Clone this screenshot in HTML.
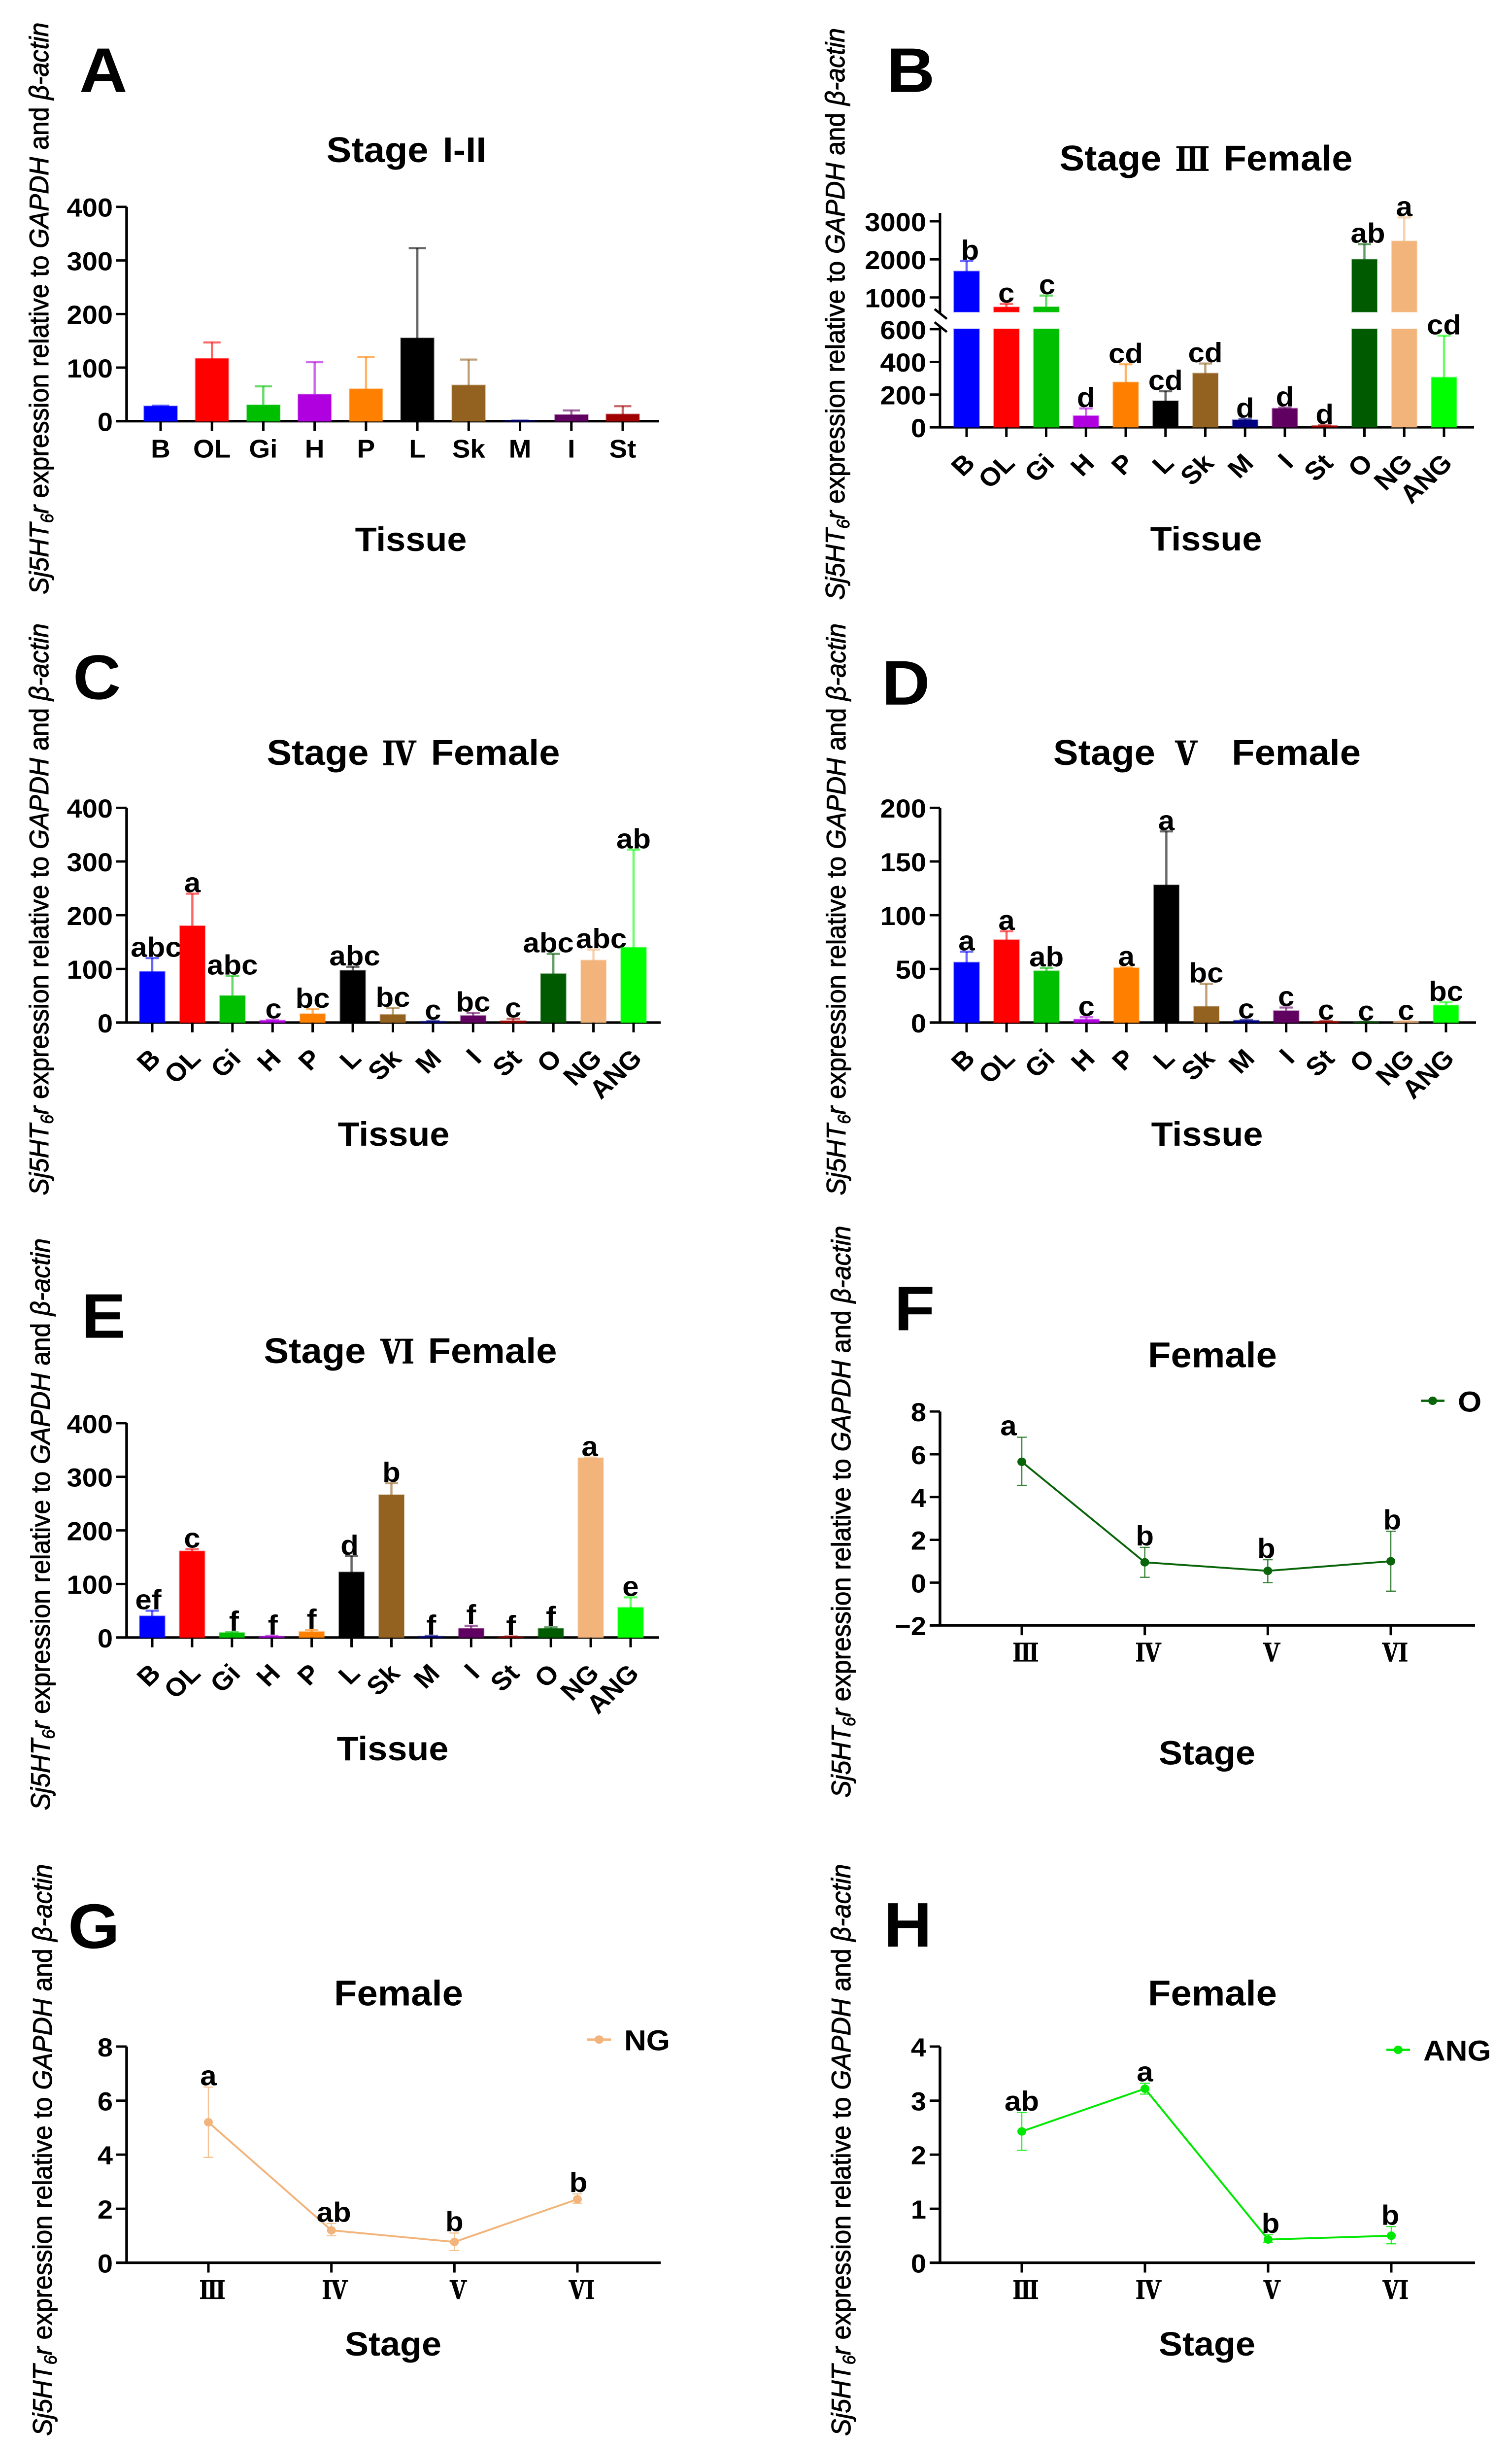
<!DOCTYPE html>
<html lang="en">
<head>
<meta charset="utf-8">
<title>Sj5HT6r expression by tissue and stage</title>
<style>
html,body{margin:0;padding:0;background:#fff;width:100%;height:100%;overflow:hidden;}
svg{display:block;width:100vw;height:100vh;}
text{font-family:"Liberation Sans","Noto Sans CJK SC",sans-serif;white-space:pre;}
</style>
</head>
<body>
<svg id="chart" xmlns="http://www.w3.org/2000/svg" viewBox="0 0 3067 5277" preserveAspectRatio="none"></svg>
<script>
const tissues10 = ['B','OL','Gi','H','P','L','Sk','M','I','St'];
const tissues13 = ['B','OL','Gi','H','P','L','Sk','M','I','St','O','NG','ANG'];
const tissueColors = ['#0000ff','#ff0000','#00bf00','#b000e0','#ff8000','#000000','#936220','#000080','#600060','#a00000','#005a00','#f2b47a','#00ff00'];
const stages = ['Ⅲ','Ⅳ','Ⅴ','Ⅵ'];

const ticksA = [0,100,200,300,400];
const valuesA = [28,117,30,50,60,155,67,1,12,13];
const errTopA = [29,147,65,110,120,323,115,1,20,28];

const ticksB = [0,200,400,600,1000,2000,3000];
const valuesB = [1687,745,750,70,275,160,330,45,115,10,2000,2480,305];
const errTopB = [1957,830,1050,115,385,220,390,50,120,12,2400,3100,560];
const lettersB = ['b','c','c','d','cd','cd','cd','d','d','d','ab','a','cd'];

const ticksC = [0,100,200,300,400];
const valuesC = [95,180,50,4,16,97,15,2,13,3,91,116,140];
const errTopC = [120,240,87,5,25,104,27,3,18,7,128,136,322];
const lettersC = ['abc','a','abc','c','bc','abc','bc','c','bc','c','abc','abc','ab'];

const ticksD = [0,50,100,150,200];
const valuesD = [56,77,48,3,51,128,15,2,11,1,0.5,1,16];
const errTopD = [66,85,51,5,51.5,178,36,2.5,14,1.5,0.6,1.2,19];
const lettersD = ['a','a','ab','c','a','a','bc','c','c','c','c','c','bc'];

const ticksE = [0,100,200,300,400];
const valuesE = [40,161,9,2,11,122,266,2,17,1,17,335,56];
const errTopE = [50,165,10,3,14,152,288,3,22,2,19,336,75];
const lettersE = ['ef','c','f','f','f','d','b','f','f','f','f','a','e'];

const ticksF = [-2,0,2,4,6,8];
const meansF = [5.65,0.95,0.55,1.0];
const upperF = [6.8,1.65,1.07,2.4];
const lowerF = [4.55,0.25,0,-0.4];
const lettersF = ['a','b','b','b'];

const ticksG = [0,2,4,6,8];
const meansG = [5.2,1.2,0.77,2.35];
const upperG = [6.5,1.45,1.1,2.55];
const lowerG = [3.9,1.0,0.45,2.2];
const lettersG = ['a','ab','b','b'];

const ticksH = [0,1,2,3,4];
const meansH = [2.43,3.22,0.43,0.5];
const upperH = [2.78,3.32,0.52,0.67];
const lowerH = [2.08,3.12,0.38,0.35];
const lettersH = ['ab','a','b','b'];

const NS = 'http://www.w3.org/2000/svg';
const root = document.getElementById('chart');

function add(parent, tag, name, attrs, text) {
  const el = document.createElementNS(NS, tag);
  
  
  for (const k in attrs) el.setAttribute(k, attrs[k]);
  if (text !== undefined) el.textContent = text;
  parent.appendChild(el);
  return el;
}
function line(p, name, x1, y1, x2, y2, color, w, op) {
  return add(p, 'line', name, {x1:x1, y1:y1, x2:x2, y2:y2, stroke:color, 'stroke-width':w, 'stroke-opacity':op === undefined ? 1 : op});
}
function boldText(p, name, x, y, str, size, anchor) {
  return add(p, 'text', name, {x:x, y:y, 'font-size':size, 'font-weight':'bold', 'text-anchor':anchor || 'middle', fill:'#000'}, str);
}

function yTitle(p, id, x, bottom) {
  const t = add(p, 'text', id + '-y-axis-title', {x:x, y:bottom, 'font-size':55, fill:'#000', stroke:'#000', 'stroke-width':1, transform:'rotate(-90 ' + x + ' ' + bottom + ')'});
  const parts = [['Sj5HT','italic',55,0],['6','italic',36,10],['r','italic',55,-10],[' expression relative to ','normal',55,0],['GAPDH','italic',55,0],[' and ','normal',55,0],['β-actin','italic',55,0]];
  parts.forEach(function (q) {
    add(t, 'tspan', id + '-y-title-part', {'font-style':q[1], 'font-size':q[2], dy:q[3]}, q[0]);
  });
}

function title(p, id, cx, base, before, roman, after) {
  const t = add(p, 'text', id + '-title', {x:cx, y:base, 'font-size':76, 'font-weight':'bold', 'text-anchor':'middle', fill:'#000', 'word-spacing':8});
  add(t, 'tspan', id + '-title-text', {}, before);
  if (roman) {
    add(t, 'tspan', id + '-title-numeral', {style:'font-family:"Noto Serif CJK SC",serif', 'font-weight':'bold', 'font-size':68, stroke:'#000', 'stroke-width':1.8}, roman);
    add(t, 'tspan', id + '-title-text-end', {}, after);
  }
}

function yAxis(g, c, y) {
  if (c.brk) {
    const lowTop = y(c.brk.low) - 5;
    const highBottom = y(c.brk.high) + 4;
    line(g, 'y-axis-lower', c.axisX, y(0) + 2, c.axisX, lowTop, '#000', 5);
    line(g, 'y-axis-upper', c.axisX, highBottom, c.axisX, c.axisTop, '#000', 5);
    line(g, 'y-axis-break-upper', c.axisX - 11, highBottom - 10, c.axisX + 14, highBottom + 11, '#000', 5);
    line(g, 'y-axis-break-lower', c.axisX - 11, lowTop - 10, c.axisX + 14, lowTop + 11, '#000', 5);
  } else {
    line(g, 'y-axis', c.axisX, c.y0 + 2, c.axisX, c.axisTop, '#000', 5.5);
  }
  c.ticks.forEach(function (v) {
    line(g, 'y-tick-' + v, c.axisX - 21, y(v), c.axisX, y(v), '#000', 5);
    boldText(g, 'y-tick-label-' + v, c.axisX - 28, y(v) + 21, v < 0 ? '−' + Math.abs(v) : String(v), 56, 'end');
  });
  line(g, 'x-axis', c.axisX - 21, c.y0, c.axisRight, c.y0, '#000', 5.5);
}

function frame(c) {
  const g = add(root, 'g', 'panel-' + c.id, {});
  boldText(g, 'panel-letter-' + c.id, c.letterX, c.letterBase, c.letter, 135, 'start');
  yTitle(g, c.id, c.yTitleX, c.yTitleBottom);
  title(g, c.id, c.titleCx, c.titleBase, c.title[0], c.title[1], c.title[2]);
  boldText(g, 'x-axis-title-' + c.id, c.xTitleCx, c.xTitleBase, c.xTitle, 72);
  return g;
}

function barPanel(c) {
  const g = frame(c);
  const y = c.scale;
  yAxis(g, c, y);
  const n = c.cats.length;
  const x = function (i) { return c.firstX + i * (c.lastX - c.firstX) / (n - 1); };
  c.cats.forEach(function (cat, i) {
    const col = tissueColors[i];
    const v = c.values[i];
    const cx = x(i);
    const left = cx - c.barW / 2 + 1.5;
    const w = c.barW - 3;
    const halo = {fill:col, stroke:col, 'stroke-opacity':0.35, 'stroke-width':3};
    line(g, 'error-bar-' + cat, cx, y(v), cx, y(c.errTop[i]), col, 4.5, 0.6);
    line(g, 'error-cap-' + cat, cx - c.barW / 4, y(c.errTop[i]), cx + c.barW / 4, y(c.errTop[i]), col, 4.5, 0.6);
    if (c.brk && v > c.brk.low) {
      add(g, 'rect', 'bar-' + cat + '-lower', Object.assign({x:left, y:y(c.brk.low), width:w, height:y(0) - y(c.brk.low)}, halo));
      add(g, 'rect', 'bar-' + cat + '-upper', Object.assign({x:left, y:y(v), width:w, height:y(c.brk.high) - y(v)}, halo));
    } else {
      add(g, 'rect', 'bar-' + cat, Object.assign({x:left, y:y(v), width:w, height:y(0) - y(v)}, halo));
    }
    line(g, 'x-tick-' + cat, cx, c.y0, cx, c.y0 + 21, '#000', 5);
    if (c.rotated) {
      const ax = cx + 20, ay = c.y0 + 80;
      add(g, 'text', 'x-tick-label-' + cat, {x:ax, y:ay, 'font-size':55, 'font-weight':'bold', 'text-anchor':'end', fill:'#000', transform:'rotate(-45 ' + ax + ' ' + ay + ')'}, cat);
    } else {
      boldText(g, 'x-tick-label-' + cat, cx, c.y0 + 78, cat, 55);
    }
    if (c.letters) {
      const nudge = (c.nudge && c.nudge[i]) || 0;
      boldText(g, 'significance-letter-' + cat, cx + nudge, y(c.errTop[i]) - 3, c.letters[i], 60);
    }
  });
}

function linePanel(c) {
  const g = frame(c);
  const y = function (v) { return c.y0 - (v - c.min) * (c.y0 - c.axisTop) / (c.max - c.min); };
  yAxis(g, c, y);
  const x = function (i) { return c.firstX + i * (c.lastX - c.firstX) / (stages.length - 1); };
  const pts = c.means.map(function (v, i) { return x(i) + ',' + y(v); }).join(' ');
  stages.forEach(function (s, i) {
    line(g, 'x-tick-' + i, x(i), c.y0, x(i), c.y0 + 21, '#000', 5);
    add(g, 'text', 'x-tick-label-' + i, {x:x(i) + 8, y:c.y0 + 77, 'font-size':52, 'font-weight':'bold', 'text-anchor':'middle', fill:'#000', stroke:'#000', 'stroke-width':1.4, style:'font-family:"Noto Serif CJK SC",serif'}, s);
    line(g, 'error-bar-' + i, x(i), y(c.upper[i]), x(i), y(c.lower[i]), c.color, 2.5, 0.8);
    line(g, 'error-cap-top-' + i, x(i) - 10, y(c.upper[i]), x(i) + 10, y(c.upper[i]), c.color, 2.5, 0.8);
    line(g, 'error-cap-bottom-' + i, x(i) - 10, y(c.lower[i]), x(i) + 10, y(c.lower[i]), c.color, 2.5, 0.8);
  });
  add(g, 'polyline', 'series-line-' + c.series, {points:pts, fill:'none', stroke:c.color, 'stroke-width':4});
  stages.forEach(function (s, i) {
    add(g, 'circle', 'point-' + c.series + '-' + i, {cx:x(i), cy:y(c.means[i]), r:9, fill:c.color});
    const nudge = (c.nudge && c.nudge[i]) || 0;
    boldText(g, 'significance-letter-' + i, x(i) + nudge, y(c.upper[i]) - 4, c.letters[i], 60);
  });
  line(g, 'legend-line', c.legendX, c.legendY, c.legendX + 48, c.legendY, c.color, 5);
  add(g, 'circle', 'legend-marker', {cx:c.legendX + 24, cy:c.legendY, r:9, fill:c.color});
  boldText(g, 'legend-label', c.legendX + 75, c.legendY + 23, c.series, 62, 'start');
}

function linear(y0, yTop, max) {
  return function (v) { return y0 - v * (y0 - yTop) / max; };
}

barPanel({id:'a', letter:'A', letterX:161, letterBase:197, yTitleX:98, yTitleBottom:1273,
  title:['Stage I-II'], titleCx:825, titleBase:347, xTitle:'Tissue', xTitleCx:834, xTitleBase:1180,
  axisX:257, axisRight:1338, y0:902, axisTop:443, ticks:ticksA, scale:linear(902,443,400),
  cats:tissues10, values:valuesA, errTop:errTopA, firstX:326, lastX:1264, barW:70, rotated:false});

barPanel({id:'b', letter:'B', letterX:1800, letterBase:197, yTitleX:1714, yTitleBottom:1285,
  title:['Stage ','Ⅲ',' Female'], titleCx:2448, titleBase:365, xTitle:'Tissue', xTitleCx:2448, xTitleBase:1179,
  axisX:1908, axisRight:2992, y0:915, axisTop:456, ticks:ticksB, brk:{low:600, high:620},
  scale:function (v) { return v <= 600 ? 915 - v * 0.35 : 637 - (v - 1000) * 0.0815; },
  cats:tissues13, values:valuesB, errTop:errTopB, letters:lettersB, firstX:1962, lastX:2931, barW:54, rotated:true, nudge:{0:7,2:2,10:7}});

barPanel({id:'c', letter:'C', letterX:148, letterBase:1497, yTitleX:98, yTitleBottom:2560,
  title:['Stage ','Ⅳ',' Female'], titleCx:839, titleBase:1638, xTitle:'Tissue', xTitleCx:799, xTitleBase:2454,
  axisX:257, axisRight:1341, y0:2190, axisTop:1730, ticks:ticksC, scale:linear(2190,1730,400),
  cats:tissues13, values:valuesC, errTop:errTopC, letters:lettersC, firstX:309, lastX:1286, barW:54, rotated:true, nudge:{0:8,3:2,5:4,10:-10,11:16}});

barPanel({id:'d', letter:'D', letterX:1790, letterBase:1509, yTitleX:1716, yTitleBottom:2560,
  title:['Stage ','Ⅴ','  Female'], titleCx:2450, titleBase:1638, xTitle:'Tissue', xTitleCx:2450, xTitleBase:2454,
  axisX:1908, axisRight:2996, y0:2190, axisTop:1730, ticks:ticksD, scale:linear(2190,1730,200),
  cats:tissues13, values:valuesD, errTop:errTopD, letters:lettersD, firstX:1962, lastX:2935, barW:54, rotated:true});

barPanel({id:'e', letter:'E', letterX:165, letterBase:2865, yTitleX:101, yTitleBottom:3877,
  title:['Stage ','Ⅵ',' Female'], titleCx:833, titleBase:2919, xTitle:'Tissue', xTitleCx:797, xTitleBase:3770,
  axisX:257, axisRight:1338, y0:3507, axisTop:3048, ticks:ticksE, scale:linear(3507,3048,400),
  cats:tissues13, values:valuesE, errTop:errTopE, letters:lettersE, firstX:309, lastX:1280, barW:54, rotated:true, nudge:{0:-8,2:4,3:2,5:-4,11:-2}});

linePanel({id:'f', letter:'F', letterX:1815, letterBase:2849, yTitleX:1726, yTitleBottom:3850,
  title:['Female'], titleCx:2461, titleBase:2928, xTitle:'Stage', xTitleCx:2450, xTitleBase:3779,
  axisX:1908, axisRight:2994, y0:3481, axisTop:3023, min:-2, max:8, ticks:ticksF,
  means:meansF, upper:upperF, lower:lowerF, letters:lettersF, firstX:2074, lastX:2823, color:'#0a640a', series:'O', legendX:2884, legendY:3000, nudge:{0:-27,2:-3,3:3}});

linePanel({id:'g', letter:'G', letterX:138, letterBase:4172, yTitleX:105, yTitleBottom:5217,
  title:['Female'], titleCx:809, titleBase:4295, xTitle:'Stage', xTitleCx:798, xTitleBase:5045,
  axisX:257, axisRight:1341, y0:4846, axisTop:4383, min:0, max:8, ticks:ticksG,
  means:meansG, upper:upperG, lower:lowerG, letters:lettersG, firstX:423, lastX:1172, color:'#f2b47a', series:'NG', legendX:1192, legendY:4368, nudge:{1:5,3:2}});

linePanel({id:'h', letter:'H', letterX:1794, letterBase:4169, yTitleX:1726, yTitleBottom:5217,
  title:['Female'], titleCx:2461, titleBase:4295, xTitle:'Stage', xTitleCx:2450, xTitleBase:5045,
  axisX:1908, axisRight:2994, y0:4846, axisTop:4383, min:0, max:4, ticks:ticksH,
  means:meansH, upper:upperH, lower:lowerH, letters:lettersH, firstX:2074, lastX:2824, color:'#00e800', series:'ANG', legendX:2814, legendY:4390, nudge:{2:5,3:-2}});
</script>
</body>
</html>
